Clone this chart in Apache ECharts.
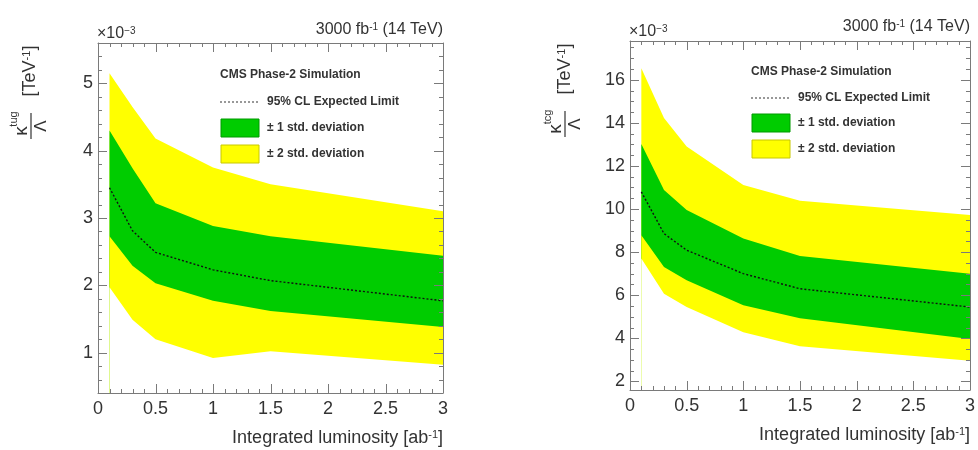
<!DOCTYPE html>
<html><head><meta charset="utf-8">
<script src="https://cdn.jsdelivr.net/npm/echarts@6/dist/echarts.min.js"></script>
<style>html,body{margin:0;padding:0;background:#fff}#c{width:978px;height:450px}</style>
</head><body><div id="c"></div>
<script>
// Integrated luminosity points [ab^-1]
const lumi = [0.1, 0.3, 0.5, 1.0, 1.5, 3.0];
// Left panel: kappa_tug / Lambda  (x10^-3 TeV^-1)
const tugMedian = [3.45, 2.81, 2.49, 2.23, 2.07, 1.77];
const tugUp1    = [4.30, 3.74, 3.22, 2.88, 2.73, 2.44];
const tugDn1    = [2.73, 2.29, 2.03, 1.77, 1.62, 1.38];
const tugUp2    = [5.15, 4.65, 4.18, 3.75, 3.50, 3.10];
const tugDn2    = [1.97, 1.49, 1.20, 0.92, 1.02, 0.82];
// Right panel: kappa_tcg / Lambda  (x10^-3 TeV^-1)
const tcgMedian = [10.80, 8.86, 8.09, 7.00, 6.30, 5.45];
const tcgUp1    = [13.02, 10.88, 9.95, 8.63, 7.82, 7.00];
const tcgDn1    = [8.78, 7.31, 6.69, 5.53, 4.93, 3.97];
const tcgUp2    = [16.54, 14.22, 12.90, 11.11, 10.38, 9.72];
const tcgDn2    = [7.70, 6.07, 5.45, 4.28, 3.63, 2.96];
// Axis ranges / tick steps / texts
const xRange = [0, 3];
const yRangeL = [0.4, 5.6];
const yRangeR = [1.6, 17.8];
const xMajor = 0.5, xMinor = 0.1;
const yMajorL = 1, yMinorL = 0.2;
const yMajorR = 2, yMinorR = 0.5;
const xTitle = 'Integrated luminosity [ab{s|-1}]';
const lumiText = '3000 fb{s|-1} (14 TeV)';
const expText = '×10{s|−3}';
const legendTexts = ['CMS Phase-2 Simulation', '95% CL Expected Limit', '± 1 std. deviation', '± 2 std. deviation'];
const supL = 'tug', supR = 'tcg';

const FONT = "'Liberation Sans', Arial, Helvetica, sans-serif";
const GREEN = '#00cc00', YELLOW = '#ffff00', WHITE = '#ffffff';
const AX = '#7a7a7a';
const GRIDS = [{left: 98, top: 43, width: 345, height: 350}, {left: 630, top: 41, width: 340, height: 349}];

const chart = echarts.init(document.getElementById('c'));

function xAx(grid, pos) {
  return {
    type: 'value', gridIndex: grid, position: pos, min: xRange[0], max: xRange[1], interval: xMajor, z: 20,
    axisLine: {show: true, onZero: false, lineStyle: {color: AX, width: 1}},
    axisTick: {show: false}, minorTick: {show: false}, splitLine: {show: false},
    axisLabel: {show: pos === 'bottom', color: '#333', fontSize: 18, fontFamily: FONT, margin: 7}
  };
}
function yAx(grid, pos, range, split, step) {
  return {
    type: 'value', gridIndex: grid, position: pos, min: range[0], max: range[1], splitNumber: split, z: 20,
    axisLine: {show: true, onZero: false, lineStyle: {color: AX, width: 1}},
    axisTick: {show: false}, minorTick: {show: false}, splitLine: {show: false},
    axisLabel: {show: pos === 'left', color: '#333', fontSize: 18, fontFamily: FONT, margin: 5,
      formatter: v => (Math.abs(v / step - Math.round(v / step)) < 1e-6 ? String(Math.round(v)) : '')}
  };
}
// filled area from a curve down to the axis minimum; layered to form the bands
function fill(axisIdx, vals, color, z) {
  return {
    type: 'line', xAxisIndex: axisIdx, yAxisIndex: axisIdx, silent: true, z: z,
    data: lumi.map((x, i) => [x, vals[i]]), symbol: 'none',
    lineStyle: {width: 0, opacity: 0},
    areaStyle: {color: color, opacity: 1, origin: 'start'}
  };
}
function median(axisIdx, vals) {
  return {
    type: 'line', xAxisIndex: axisIdx, yAxisIndex: axisIdx, silent: true, z: 6,
    data: lumi.map((x, i) => [x, vals[i]]), symbol: 'none',
    lineStyle: {color: '#111', width: 1.4, type: [2, 2]}
  };
}
function panel(axisIdx, up2, up1, med, dn1, dn2) {
  return [fill(axisIdx, up2, YELLOW, 1), fill(axisIdx, up1, GREEN, 2),
          fill(axisIdx, dn1, YELLOW, 3), fill(axisIdx, dn2, WHITE, 4), median(axisIdx, med)];
}
function txt(x, y, text, size, align, bold) {
  return {
    type: 'text', x: x, y: y, silent: true, z: 30,
    style: {
      text: text, fill: '#333', font: (bold ? 'bold ' : '') + size + 'px ' + FONT,
      align: align, textAlign: align, verticalAlign: 'middle', textVerticalAlign: 'middle',
      rich: {s: {fontSize: Math.round(size * 0.6), fontFamily: FONT, fill: '#333', verticalAlign: 'top'}}
    }
  };
}
function legend(x0, yT, yL, yG, yY, tx) {
  return [
    txt(x0, yT, legendTexts[0], 12, 'left', true),
    {type: 'line', silent: true, z: 30, shape: {x1: x0, y1: yL, x2: x0 + 38, y2: yL},
      style: {stroke: '#333', lineWidth: 1, lineDash: [2, 2]}},
    txt(tx, yL, legendTexts[1], 12, 'left', true),
    {type: 'rect', silent: true, z: 30, shape: {x: x0 + 1, y: yG - 9, width: 38, height: 18},
      style: {fill: GREEN, stroke: '#009a00', lineWidth: 1}},
    txt(tx, yG, legendTexts[2], 12, 'left', true),
    {type: 'rect', silent: true, z: 30, shape: {x: x0 + 1, y: yY - 9, width: 38, height: 18},
      style: {fill: YELLOW, stroke: '#c8c800', lineWidth: 1}},
    txt(tx, yY, legendTexts[3], 12, 'left', true)
  ];
}
function yTitle(cxTeV, cyTeV, cx, cy, sup) {
  const ctr = {align: 'center', textAlign: 'center', verticalAlign: 'middle', textVerticalAlign: 'middle', fill: '#333'};
  return [
    {type: 'text', x: cxTeV, y: cyTeV, rotation: Math.PI / 2, silent: true,
      style: Object.assign({text: '[TeV{s|-1}]', font: '18px ' + FONT,
        rich: {s: {fontSize: 11, fontFamily: FONT, fill: '#333', verticalAlign: 'top'}}}, ctr)},
    {type: 'group', x: cx, y: cy, rotation: Math.PI / 2, silent: true, children: [
      {type: 'text', x: -5, y: -9, style: Object.assign({text: 'κ', font: '19px ' + FONT}, ctr)},
      {type: 'text', x: 7, y: -17, style: Object.assign({text: sup, font: '11px ' + FONT}, ctr)},
      {type: 'line', shape: {x1: -13, y1: 0, x2: 13, y2: 0}, style: {stroke: '#333', lineWidth: 1.2}},
      {type: 'text', x: 0, y: 10, style: Object.assign({text: 'Λ', font: '17px ' + FONT}, ctr)}
    ]}
  ];
}
// axis value -> pixel through the chart's own axis scale (with a grid-geometry fallback)
function toPx(kind, axisIdx, v, g, range) {
  let p;
  try {
    p = chart.convertToPixel(kind === 'x' ? {xAxisIndex: axisIdx} : {yAxisIndex: axisIdx}, v);
  } catch (e) { p = undefined; }
  if (Array.isArray(p)) p = kind === 'x' ? p[0] : p[1];
  if (typeof p === 'number' && isFinite(p)) return p;
  const f = (v - range[0]) / (range[1] - range[0]);
  return kind === 'x' ? g.left + f * g.width : g.top + g.height - f * g.height;
}
// ROOT-style inward ticks on all four sides of a frame
function frameTicks(gridIdx, axisIdx, yr, yMaj, yMin) {
  const g = GRIDS[gridIdx];
  const els = [];
  const line = (x1, y1, x2, y2) => ({type: 'line', silent: true, z: 25,
    shape: {x1: x1, y1: y1, x2: x2, y2: y2}, style: {stroke: AX, lineWidth: 1}});
  const yB = toPx('y', axisIdx, yr[0], g, yr), yT = toPx('y', axisIdx, yr[1], g, yr);
  const xL = toPx('x', axisIdx, xRange[0], g, xRange), xR = toPx('x', axisIdx, xRange[1], g, xRange);
  const nx = Math.round((xRange[1] - xRange[0]) / xMinor);
  const perX = Math.round(xMajor / xMinor);
  for (let k = 1; k < nx; k++) {
    const v = xRange[0] + k * xMinor;
    const len = (k % perX === 0) ? 9 : 4;
    const px = Math.round(toPx('x', axisIdx, v, g, xRange)) + 0.5;
    els.push(line(px, yB, px, yB - len), line(px, yT, px, yT + len));
  }
  const perY = Math.round(yMaj / yMin);
  const k0 = Math.ceil(yr[0] / yMin + 1e-6), k1 = Math.floor(yr[1] / yMin - 1e-6);
  for (let k = k0; k <= k1; k++) {
    const v = k * yMin;
    const len = (k % perY === 0) ? 9 : 4;
    const py = Math.round(toPx('y', axisIdx, v, g, yr)) + 0.5;
    els.push(line(xL, py, xL + len, py), line(xR, py, xR - len, py));
  }
  return els;
}

const option = {
  animation: false,
  grid: GRIDS.map(g => Object.assign({}, g)),
  xAxis: [xAx(0, 'bottom'), xAx(0, 'top'), xAx(1, 'bottom'), xAx(1, 'top')],
  yAxis: [yAx(0, 'left', yRangeL, 5, yMajorL), yAx(0, 'right', yRangeL, 5, yMajorL),
          yAx(1, 'left', yRangeR, 8, yMajorR), yAx(1, 'right', yRangeR, 8, yMajorR)],
  series: [].concat(
    panel(0, tugUp2, tugUp1, tugMedian, tugDn1, tugDn2),
    panel(2, tcgUp2, tcgUp1, tcgMedian, tcgDn1, tcgDn2)
  )
};
chart.setOption(option);
chart.setOption({
  graphic: [].concat(
    frameTicks(0, 0, yRangeL, yMajorL, yMinorL),
    frameTicks(1, 2, yRangeR, yMajorR, yMinorR),
    [txt(97, 34, expText, 16, 'left'), txt(443, 30, lumiText, 16, 'right'),
     txt(443, 438, xTitle, 18, 'right'),
     txt(629, 32, expText, 16, 'left'), txt(970, 27, lumiText, 16, 'right'),
     txt(970, 435, xTitle, 18, 'right')],
    legend(220, 75, 102, 128, 154, 267),
    legend(751, 72, 98, 123, 149, 798),
    yTitle(30, 71, 31, 126, supL),
    yTitle(565, 69, 565, 124, supR)
  )
});
</script>
</body></html>
